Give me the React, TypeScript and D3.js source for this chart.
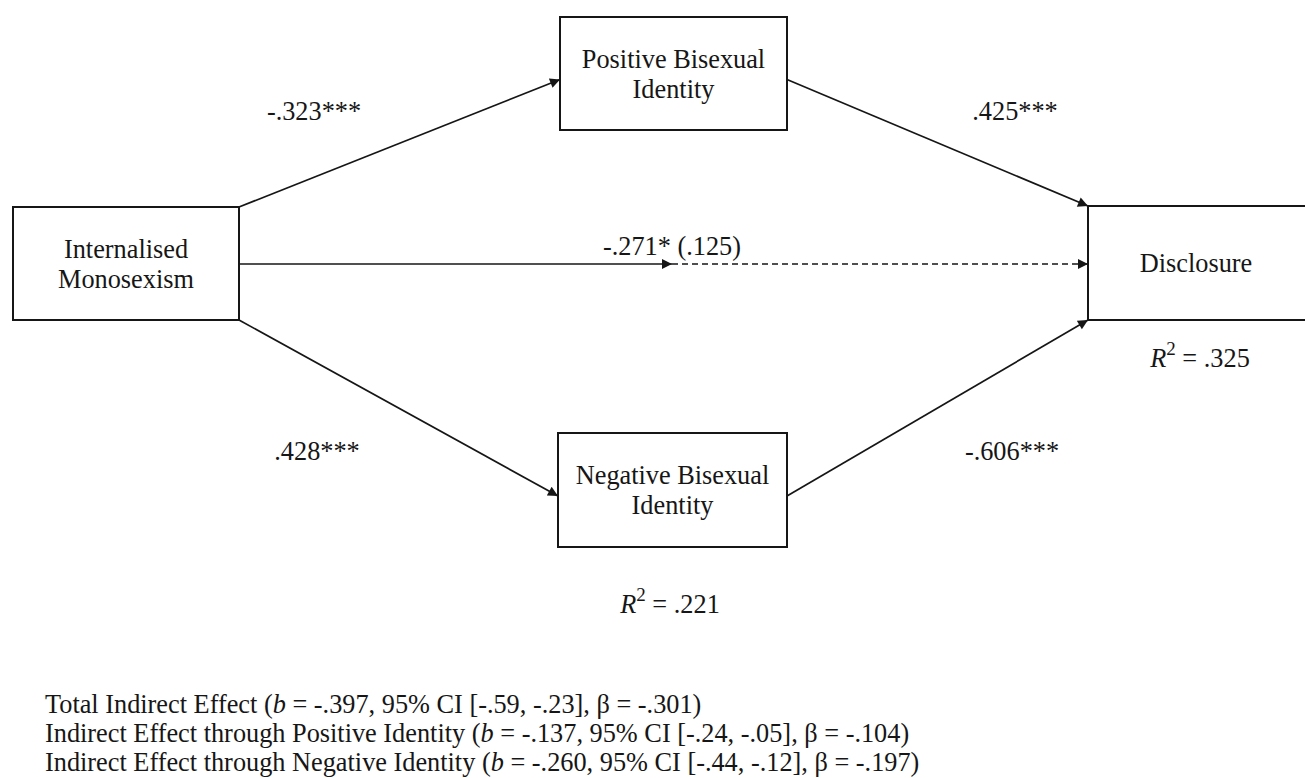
import React, { useEffect, useRef } from "react";
import * as d3 from "d3";

// model content
const nodeIds = ["im", "pos", "neg", "disc"];
const nodeLabels = [
  ["Internalised", "Monosexism"],
  ["Positive Bisexual", "Identity"],
  ["Negative Bisexual", "Identity"],
  ["Disclosure"],
];
const pathFrom = ["im", "pos", "im", "neg"];
const pathTo = ["pos", "disc", "neg", "disc"];
const pathCoefs = ["-.323***", ".425***", ".428***", "-.606***"];
const directCoef = "-.271* (.125)";
const rSquaredNodes = ["neg", "disc"];
const rSquaredValues = [".221", ".325"];
const effectNames = [
  "Total Indirect Effect",
  "Indirect Effect through Positive Identity",
  "Indirect Effect through Negative Identity",
];
const effectB = ["-.397", "-.137", "-.260"];
const effectCI = ["[-.59, -.23]", "[-.24, -.05]", "[-.44, -.12]"];
const effectBeta = ["-.301", "-.104", "-.197"];

// layout (pixel boxes)
const boxes: Record<string, { x0: number; x1: number; y0: number; y1: number }> = {
  im: { x0: 13, x1: 239, y0: 207, y1: 320 },
  pos: { x0: 560, x1: 787, y0: 17, y1: 130 },
  neg: { x0: 558, x1: 787, y0: 433, y1: 547 },
  disc: { x0: 1088, x1: 1320, y0: 206, y1: 320 },
};

const W = 1305;
const H = 778;
const FONT = "'Liberation Serif', 'Times New Roman', serif";
const INK = "#161616";

const App: React.FC = () => {
  const svgRef = useRef<SVGSVGElement>(null);

  useEffect(() => {
    if (!svgRef.current) return;
    const svg = d3.select(svgRef.current);
    svg.selectAll("*").remove();

    svg.append("defs").append("marker")
      .attr("id", "head")
      .attr("viewBox", "0 0 10 10")
      .attr("refX", 10)
      .attr("refY", 5)
      .attr("markerUnits", "userSpaceOnUse")
      .attr("markerWidth", 13)
      .attr("markerHeight", 10)
      .attr("orient", "auto")
      .append("path")
      .attr("d", "M0,0 L10,5 L0,10 z")
      .attr("fill", INK);

    const line = d3.line<[number, number]>();

    // endpoints on boxes
    const anchor = (id: string, side: string): [number, number] => {
      const b = boxes[id];
      if (side === "tr") return [b.x1, b.y0];
      if (side === "br") return [b.x1, b.y1];
      if (side === "tl") return [b.x0, b.y0];
      if (side === "bl") return [b.x0, b.y1];
      if (side === "r") return [b.x1, (b.y0 + b.y1) / 2 + 6];
      if (side === "l") return [b.x0, (b.y0 + b.y1) / 2 + 6];
      return [b.x0, (b.y0 + b.y1) / 2];
    };
    const fromSide = ["tr", "r", "br", "r"];
    const toSide = ["l", "tl", "l", "bl"];
    const labelPos: [number, number][] = [
      [314, 120],
      [1015, 120],
      [317, 460],
      [1012, 460],
    ];

    const g = svg.append("g");

    pathFrom.forEach((f, i) => {
      const p0 = anchor(f, fromSide[i]);
      const p1 = anchor(pathTo[i], toSide[i]);
      g.append("path")
        .attr("d", line([p0, p1]))
        .attr("fill", "none")
        .attr("stroke", INK)
        .attr("stroke-width", 1.7)
        .attr("marker-end", "url(#head)");
      g.append("text")
        .attr("x", labelPos[i][0])
        .attr("y", labelPos[i][1])
        .attr("text-anchor", "middle")
        .text(pathCoefs[i]);
    });

    // direct effect: solid then dashed
    const dy = 264;
    const mid = 672;
    g.append("path")
      .attr("d", line([[boxes.im.x1, dy], [mid, dy]]))
      .attr("stroke", INK)
      .attr("stroke-width", 1.7)
      .attr("marker-end", "url(#head)");
    g.append("path")
      .attr("d", line([[mid, dy], [boxes.disc.x0, dy]]))
      .attr("stroke", INK)
      .attr("stroke-width", 1.7)
      .attr("stroke-dasharray", "6,4")
      .attr("marker-end", "url(#head)");
    g.append("text")
      .attr("x", 672)
      .attr("y", 255)
      .attr("text-anchor", "middle")
      .text(directCoef);

    // boxes
    nodeIds.forEach((id, i) => {
      const b = boxes[id];
      g.append("rect")
        .attr("x", b.x0)
        .attr("y", b.y0)
        .attr("width", b.x1 - b.x0)
        .attr("height", b.y1 - b.y0)
        .attr("fill", "#fff")
        .attr("stroke", INK)
        .attr("stroke-width", 2);
      const lines = nodeLabels[i];
      const cx = id === "disc" ? 1196 : (b.x0 + b.x1) / 2;
      const lh = 30;
      const base = (b.y0 + b.y1) / 2 + 9 - ((lines.length - 1) * lh) / 2;
      lines.forEach((t, k) => {
        g.append("text")
          .attr("x", cx)
          .attr("y", base + k * lh)
          .attr("text-anchor", "middle")
          .text(t);
      });
    });

    // R squared
    const rPos: [number, number][] = [[670, 613], [1200, 367]];
    rSquaredNodes.forEach((_, i) => {
      const t = g.append("text")
        .attr("x", rPos[i][0])
        .attr("y", rPos[i][1])
        .attr("text-anchor", "middle");
      t.append("tspan").attr("font-style", "italic").text("R");
      t.append("tspan").attr("dy", -12).attr("font-size", 19).text("2");
      t.append("tspan").attr("dy", 12).text(` = ${rSquaredValues[i]}`);
    });

    // indirect effects
    effectNames.forEach((name, i) => {
      const t = g.append("text").attr("x", 45).attr("y", 713 + i * 29);
      t.append("tspan").text(`${name} (`);
      t.append("tspan").attr("font-style", "italic").text("b");
      t.append("tspan").text(` = ${effectB[i]}, 95% CI ${effectCI[i]}, β = ${effectBeta[i]})`);
    });

    svg.selectAll("text")
      .attr("font-family", FONT)
      .attr("fill", INK)
      .filter(function () { return !(this as SVGTextElement).getAttribute("font-size"); })
      .attr("font-size", 26.3);
  }, []);

  return (
    <svg
      ref={svgRef}
      width={W}
      height={H}
      style={{ position: "absolute", left: 0, top: 0, background: "#fff" }}
    />
  );
};

export default App;
